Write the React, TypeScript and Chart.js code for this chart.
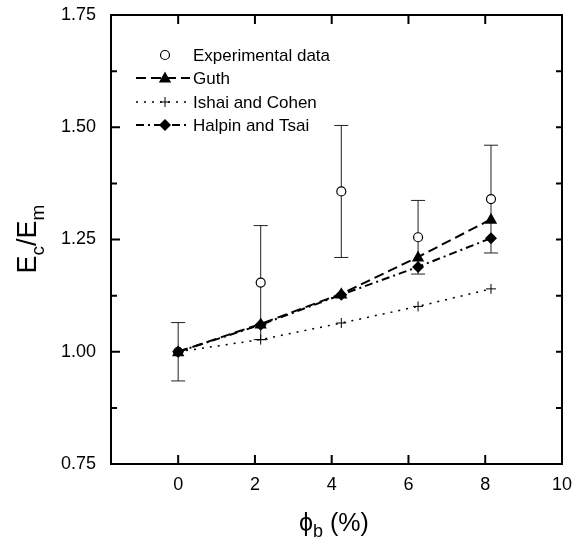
import React, { useEffect, useRef } from "react";
import { Chart, registerables } from "chart.js";

Chart.register(...registerables);

const xValues = [0, 2.15, 4.25, 6.25, 8.15];
const expValues = [1.0, 1.154, 1.357, 1.255, 1.34];
const expErrors = [0.065, 0.127, 0.147, 0.082, 0.12];
const guthValues = [1.0, 1.062, 1.129, 1.211, 1.295];
const ishaiValues = [1.0, 1.027, 1.064, 1.101, 1.14];
const halpinValues = [1.0, 1.06, 1.127, 1.189, 1.253];

const xTicks = [0, 2, 4, 6, 8, 10];
const xTickMarks = [0, 2, 4, 6, 8];
const yTicks = [0.75, 1.0, 1.25, 1.5, 1.75];
const yMinorTicks = [0.875, 1.125, 1.375, 1.625];

const seriesLabels = ["Experimental data", "Guth", "Ishai and Cohen", "Halpin and Tsai"];

const FONT = "'Liberation Sans', Arial, sans-serif";

function toPoints(vals: number[]) {
  return vals.map((v, i) => ({ x: xValues[i], y: v }));
}

function drawMarker(ctx: CanvasRenderingContext2D, style: string, x: number, y: number, r: number) {
  ctx.save();
  ctx.setLineDash([]);
  ctx.strokeStyle = "#000";
  ctx.fillStyle = "#000";
  if (style === "circle") {
    ctx.beginPath();
    ctx.arc(x, y, r, 0, Math.PI * 2);
    ctx.fillStyle = "#fff";
    ctx.fill();
    ctx.lineWidth = 1.2;
    ctx.stroke();
  } else if (style === "triangle") {
    ctx.beginPath();
    ctx.moveTo(x, y - r);
    ctx.lineTo(x + r * 0.95, y + r * 0.7);
    ctx.lineTo(x - r * 0.95, y + r * 0.7);
    ctx.closePath();
    ctx.fill();
  } else if (style === "cross") {
    ctx.lineWidth = 1;
    ctx.beginPath();
    ctx.moveTo(x - r, y);
    ctx.lineTo(x + r, y);
    ctx.moveTo(x, y - r);
    ctx.lineTo(x, y + r);
    ctx.stroke();
  } else if (style === "diamond") {
    ctx.beginPath();
    ctx.moveTo(x, y - r);
    ctx.lineTo(x + r, y);
    ctx.lineTo(x, y + r);
    ctx.lineTo(x - r, y);
    ctx.closePath();
    ctx.fill();
  }
  ctx.restore();
}

const markerStyles = ["circle", "triangle", "cross", "diamond"];
const markerSizes = [4.5, 6.5, 5, 6];
const lineDashes: (number[] | null)[] = [null, [10, 5], [2, 6], [8, 4, 2, 4]];
const lineWidths = [0, 2, 1.5, 2];

const customPlugin = {
  id: "custom",
  beforeDatasetsDraw(chart: any) {
    const { ctx, scales } = chart;
    const xs = scales.x;
    const ys = scales.y;
    ctx.save();
    ctx.strokeStyle = "#222";
    ctx.lineWidth = 1;
    ctx.setLineDash([]);
    expValues.forEach((v, i) => {
      const px = xs.getPixelForValue(xValues[i]);
      const top = ys.getPixelForValue(v + expErrors[i]);
      const bot = ys.getPixelForValue(v - expErrors[i]);
      ctx.beginPath();
      ctx.moveTo(px, top);
      ctx.lineTo(px, bot);
      ctx.moveTo(px - 7, top);
      ctx.lineTo(px + 7, top);
      ctx.moveTo(px - 7, bot);
      ctx.lineTo(px + 7, bot);
      ctx.stroke();
    });
    ctx.restore();
  },
  afterDatasetsDraw(chart: any) {
    const { ctx, scales } = chart;
    const xs = scales.x;
    const ys = scales.y;
    chart.data.datasets.forEach((ds: any, di: number) => {
      ds.data.forEach((p: any) => {
        drawMarker(ctx, markerStyles[di], xs.getPixelForValue(p.x), ys.getPixelForValue(p.y), markerSizes[di]);
      });
    });
  },
  afterDraw(chart: any) {
    const { ctx, chartArea, scales } = chart;
    const xs = scales.x;
    const ys = scales.y;
    const { left, right, top, bottom } = chartArea;
    ctx.save();
    ctx.strokeStyle = "#000";
    ctx.lineWidth = 2;
    ctx.setLineDash([]);
    ctx.strokeRect(left, top, right - left, bottom - top);
    ctx.beginPath();
    xTickMarks.forEach((t) => {
      const px = xs.getPixelForValue(t);
      ctx.moveTo(px, bottom);
      ctx.lineTo(px, bottom - 9);
      ctx.moveTo(px, top);
      ctx.lineTo(px, top + 9);
    });
    yTicks.forEach((t) => {
      const py = ys.getPixelForValue(t);
      ctx.moveTo(left, py);
      ctx.lineTo(left + 9, py);
      ctx.moveTo(right, py);
      ctx.lineTo(right - 6, py);
    });
    yMinorTicks.forEach((t) => {
      const py = ys.getPixelForValue(t);
      ctx.moveTo(left, py);
      ctx.lineTo(left + 6, py);
      ctx.moveTo(right, py);
      ctx.lineTo(right - 6, py);
    });
    ctx.stroke();

    // legend
    const legendRows = [55, 78, 102, 125];
    const lx0 = 136;
    const lx1 = 190;
    const mx = 165;
    ctx.font = `17px ${FONT}`;
    ctx.textBaseline = "middle";
    ctx.fillStyle = "#000";
    seriesLabels.forEach((lab, i) => {
      const y = legendRows[i];
      if (lineDashes[i]) {
        ctx.save();
        ctx.strokeStyle = "#000";
        ctx.lineWidth = lineWidths[i];
        ctx.setLineDash(lineDashes[i] as number[]);
        ctx.beginPath();
        ctx.moveTo(lx0, y);
        ctx.lineTo(lx1, y);
        ctx.stroke();
        ctx.restore();
      }
      drawMarker(ctx, markerStyles[i], mx, y, markerSizes[i]);
      ctx.fillStyle = "#000";
      ctx.textAlign = "left";
      ctx.fillText(lab, 193, y + 1);
    });

    // x title
    ctx.textBaseline = "alphabetic";
    ctx.textAlign = "left";
    const big = `25px ${FONT}`;
    const small = `18px ${FONT}`;
    const parts: [string, string, number][] = [
      ["\u03D5", big, 0],
      ["b", small, 6],
      [" (%)", big, 0],
    ];
    let total = 0;
    parts.forEach(([t, f]) => {
      ctx.font = f;
      total += ctx.measureText(t).width;
    });
    let cx = 334 - total / 2;
    parts.forEach(([t, f, dy]) => {
      ctx.font = f;
      ctx.fillText(t, cx, 531 + dy);
      cx += ctx.measureText(t).width;
    });

    // y title
    ctx.save();
    ctx.translate(36, 239);
    ctx.rotate(-Math.PI / 2);
    const ybig = `27px ${FONT}`;
    const ysmall = `19px ${FONT}`;
    const yparts: [string, string, number][] = [
      ["E", ybig, 0],
      ["c", ysmall, 8],
      ["/E", ybig, 0],
      ["m", ysmall, 8],
    ];
    let ytotal = 0;
    yparts.forEach(([t, f]) => {
      ctx.font = f;
      ytotal += ctx.measureText(t).width;
    });
    let yx = -ytotal / 2;
    yparts.forEach(([t, f, dy]) => {
      ctx.font = f;
      ctx.fillText(t, yx, dy);
      yx += ctx.measureText(t).width;
    });
    ctx.restore();
    ctx.restore();
  },
};

export default function App() {
  const canvasRef = useRef<HTMLCanvasElement | null>(null);

  useEffect(() => {
    document.body.style.margin = "0";
    const canvas = canvasRef.current;
    if (!canvas) return;
    const chart = new Chart(canvas, {
      type: "scatter",
      data: {
        datasets: [
          {
            label: seriesLabels[0],
            data: toPoints(expValues),
            showLine: false,
            pointRadius: 0,
          },
          {
            label: seriesLabels[1],
            data: toPoints(guthValues),
            showLine: true,
            borderColor: "#000",
            borderWidth: 2,
            borderDash: [10, 5],
            pointRadius: 0,
          },
          {
            label: seriesLabels[2],
            data: toPoints(ishaiValues),
            showLine: true,
            borderColor: "#000",
            borderWidth: 1.5,
            borderDash: [2, 6],
            pointRadius: 0,
          },
          {
            label: seriesLabels[3],
            data: toPoints(halpinValues),
            showLine: true,
            borderColor: "#000",
            borderWidth: 2,
            borderDash: [8, 4, 2, 4],
            pointRadius: 0,
          },
        ],
      } as any,
      options: {
        responsive: false,
        animation: false,
        layout: { padding: { top: 15, right: 22, left: 0, bottom: 0 } },
        plugins: {
          legend: { display: false },
          tooltip: { enabled: false },
        },
        scales: {
          x: {
            type: "linear",
            min: -1.75,
            max: 10,
            grid: { display: false, drawTicks: false },
            border: { display: false },
            afterBuildTicks: (s: any) => {
              s.ticks = xTicks.map((v) => ({ value: v }));
            },
            afterFit: (s: any) => {
              s.height = 79;
              s.paddingLeft = 0;
              s.paddingRight = 0;
            },
            ticks: {
              color: "#000",
              font: { family: FONT, size: 18 },
              padding: 10,
              maxRotation: 0,
              callback: (v: any) => String(v),
            },
          },
          y: {
            type: "linear",
            min: 0.75,
            max: 1.75,
            grid: { display: false, drawTicks: false },
            border: { display: false },
            afterBuildTicks: (s: any) => {
              s.ticks = yTicks.map((v) => ({ value: v }));
            },
            afterFit: (s: any) => {
              s.width = 111;
              s.paddingTop = 0;
              s.paddingBottom = 0;
            },
            ticks: {
              color: "#000",
              font: { family: FONT, size: 18 },
              padding: 15,
              callback: (v: any) => Number(v).toFixed(2),
            },
          },
        },
      } as any,
      plugins: [customPlugin],
    });
    return () => chart.destroy();
  }, []);

  return (
    <div style={{ width: 584, height: 543 }}>
      <canvas ref={canvasRef} width={584} height={543} />
    </div>
  );
}
